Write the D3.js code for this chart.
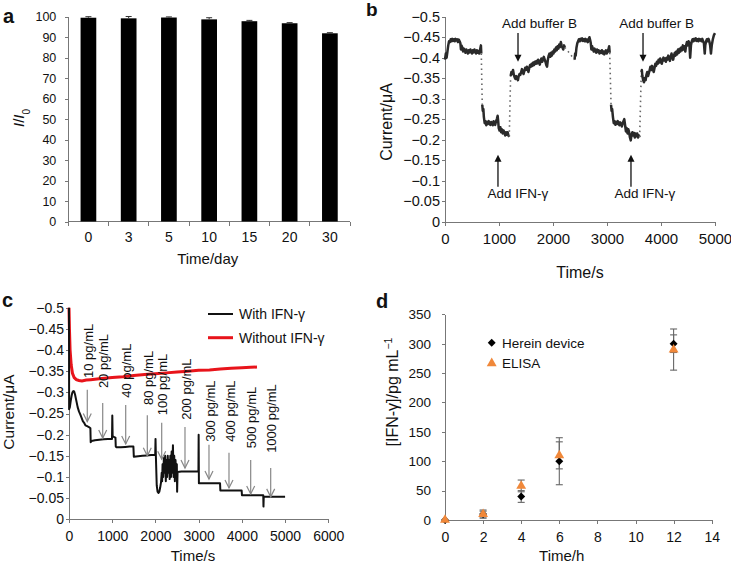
<!DOCTYPE html>
<html><head><meta charset="utf-8">
<script src="https://cdn.jsdelivr.net/npm/d3@7"></script>
<style>
body{margin:0;background:#fff}
svg{display:block;font-family:"Liberation Sans",Arial,Helvetica,sans-serif}
.axis path,.axis line{stroke:#777;stroke-width:1;shape-rendering:crispEdges}
.axis text{fill:#111;font-family:"Liberation Sans",Arial,sans-serif}
</style></head><body>
<svg id="fig" width="731" height="564"></svg>
<script>
// ---------- Panel a ----------
const aDays = ["0","3","5","10","15","20","30"];
const aValues = [99.5,99.2,99.6,98.7,97.8,96.8,91.9];
const aErrors = [0.5,0.9,0.3,0.8,0.4,0.3,0.3];
const aYTicks = [0,10,20,30,40,50,60,70,80,90,100];

// ---------- Panel b ----------
const bSeg1 = [[0,-0.395],[15,-0.41],[30,-0.40],[45,-0.415],[60,-0.43],[75,-0.44],[90,-0.438],[105,-0.445],[120,-0.44],[135,-0.446],[150,-0.441],[165,-0.445],[180,-0.44],[195,-0.446],[210,-0.442],[225,-0.445],[240,-0.438],[255,-0.444],[270,-0.44],[285,-0.435],[295,-0.42],[305,-0.43],[320,-0.425],[335,-0.415],[350,-0.422],[365,-0.418],[380,-0.412],[395,-0.42],[410,-0.416],[425,-0.41],[440,-0.418],[455,-0.413],[470,-0.42],[485,-0.415],[500,-0.41],[515,-0.418],[530,-0.413],[545,-0.42],[560,-0.415],[575,-0.41],[590,-0.418],[605,-0.412],[620,-0.416],[635,-0.41],[650,-0.42],[665,-0.43],[672,-0.41]];
const bSeg2 = [[690,-0.285],[700,-0.27],[710,-0.275],[720,-0.255],[735,-0.24],[750,-0.245],[765,-0.235],[780,-0.243],[795,-0.238],[810,-0.245],[825,-0.24],[840,-0.236],[855,-0.243],[870,-0.24],[885,-0.235],[900,-0.245],[915,-0.24],[930,-0.236],[945,-0.245],[960,-0.25],[975,-0.258],[985,-0.245],[995,-0.228],[1010,-0.222],[1025,-0.23],[1040,-0.218],[1055,-0.225],[1070,-0.215],[1085,-0.222],[1100,-0.218],[1115,-0.21],[1130,-0.218],[1145,-0.212],[1160,-0.218],[1175,-0.21],[1190,-0.207]];
const bSeg3 = [[1215,-0.355],[1230,-0.365],[1245,-0.36],[1260,-0.37],[1275,-0.358],[1290,-0.352],[1305,-0.348],[1320,-0.355],[1335,-0.35],[1350,-0.345],[1365,-0.355],[1380,-0.36],[1395,-0.358],[1410,-0.365],[1425,-0.372],[1440,-0.365],[1455,-0.36],[1470,-0.368],[1485,-0.375],[1500,-0.37],[1515,-0.378],[1530,-0.372],[1545,-0.365],[1560,-0.375],[1575,-0.382],[1590,-0.378],[1605,-0.385],[1620,-0.38],[1635,-0.388],[1650,-0.382],[1665,-0.39],[1680,-0.385],[1695,-0.392],[1710,-0.386],[1725,-0.395],[1740,-0.39],[1755,-0.383],[1770,-0.392],[1785,-0.398],[1800,-0.39],[1815,-0.395],[1830,-0.402],[1845,-0.396],[1860,-0.39],[1875,-0.382],[1890,-0.378],[1905,-0.395],[1920,-0.405],[1935,-0.41],[1950,-0.402],[1965,-0.412],[1980,-0.405],[1995,-0.415],[2010,-0.41],[2025,-0.42],[2040,-0.415],[2055,-0.425],[2070,-0.418],[2085,-0.428],[2100,-0.422],[2115,-0.432],[2130,-0.426],[2145,-0.438],[2160,-0.43],[2175,-0.425],[2190,-0.42],[2205,-0.43],[2220,-0.425]];
const bSeg4 = [[2400,-0.395],[2410,-0.41],[2420,-0.405],[2435,-0.425],[2450,-0.435],[2465,-0.44],[2480,-0.445],[2495,-0.44],[2510,-0.446],[2525,-0.442],[2540,-0.447],[2555,-0.441],[2570,-0.445],[2585,-0.44],[2600,-0.446],[2615,-0.44],[2630,-0.444],[2645,-0.438],[2660,-0.445],[2675,-0.45],[2690,-0.442],[2700,-0.435],[2710,-0.42],[2725,-0.428],[2740,-0.42],[2755,-0.415],[2770,-0.422],[2785,-0.416],[2800,-0.412],[2815,-0.42],[2830,-0.414],[2845,-0.418],[2860,-0.41],[2875,-0.416],[2890,-0.412],[2905,-0.418],[2920,-0.41],[2935,-0.415],[2950,-0.408],[2965,-0.414],[2980,-0.418],[2995,-0.41],[3010,-0.415],[3025,-0.42],[3040,-0.428],[3050,-0.412]];
const bSeg5 = [[3075,-0.285],[3085,-0.27],[3095,-0.275],[3110,-0.255],[3125,-0.24],[3140,-0.245],[3155,-0.236],[3170,-0.243],[3185,-0.238],[3200,-0.245],[3215,-0.24],[3230,-0.235],[3245,-0.242],[3260,-0.238],[3275,-0.232],[3290,-0.24],[3305,-0.245],[3320,-0.25],[3335,-0.235],[3350,-0.22],[3365,-0.228],[3380,-0.215],[3395,-0.225],[3410,-0.218],[3425,-0.205],[3440,-0.198],[3455,-0.212],[3470,-0.218],[3485,-0.21],[3500,-0.216],[3515,-0.205],[3530,-0.215],[3545,-0.208],[3560,-0.215],[3575,-0.205],[3590,-0.21],[3605,-0.206]];
const bSeg6 = [[3635,-0.365],[3645,-0.37],[3655,-0.355],[3670,-0.345],[3685,-0.34],[3700,-0.35],[3715,-0.345],[3730,-0.358],[3745,-0.365],[3760,-0.355],[3775,-0.362],[3790,-0.37],[3805,-0.378],[3820,-0.37],[3835,-0.38],[3850,-0.372],[3865,-0.365],[3880,-0.375],[3895,-0.385],[3910,-0.38],[3925,-0.39],[3940,-0.385],[3955,-0.395],[3970,-0.388],[3985,-0.398],[4000,-0.39],[4015,-0.385],[4030,-0.395],[4045,-0.4],[4060,-0.393],[4075,-0.398],[4090,-0.39],[4105,-0.4],[4120,-0.395],[4135,-0.405],[4150,-0.398],[4165,-0.392],[4180,-0.402],[4195,-0.41],[4210,-0.4],[4225,-0.395],[4240,-0.405],[4255,-0.412],[4270,-0.405],[4285,-0.415],[4300,-0.408],[4315,-0.42],[4330,-0.412],[4345,-0.422],[4360,-0.415],[4375,-0.425],[4390,-0.418],[4405,-0.43],[4420,-0.42],[4435,-0.428],[4450,-0.415],[4465,-0.43],[4480,-0.438],[4495,-0.43],[4510,-0.44],[4525,-0.435],[4540,-0.4],[4555,-0.43],[4570,-0.44],[4585,-0.445],[4600,-0.44],[4615,-0.446],[4630,-0.442],[4645,-0.447],[4660,-0.441],[4675,-0.445],[4690,-0.44],[4705,-0.446],[4720,-0.442],[4735,-0.445],[4750,-0.44],[4765,-0.446],[4780,-0.44],[4795,-0.435],[4810,-0.41],[4820,-0.43],[4835,-0.44],[4850,-0.445],[4865,-0.44],[4880,-0.446],[4895,-0.44],[4910,-0.43],[4925,-0.41],[4940,-0.43],[4960,-0.445],[4980,-0.455],[5000,-0.46]];
const bSegments = [bSeg1,bSeg2,bSeg3,bSeg4,bSeg5,bSeg6];
const bYTicks = [0,-0.05,-0.1,-0.15,-0.2,-0.25,-0.3,-0.35,-0.4,-0.45,-0.5];
const bXTicks = [0,1000,2000,3000,4000,5000];
// annotations: [label, arrow time, arrow start value, arrow tip value, text centre time, text value]
const bBufferNotes = [["Add buffer B",1352,-0.46,-0.39,1750,-0.473],["Add buffer B",3667,-0.46,-0.39,3920,-0.473]];
const bIfnNotes = [["Add IFN-γ",981,-0.085,-0.163,1350,-0.058],["Add IFN-γ",3444,-0.085,-0.163,3700,-0.058]];

// ---------- Panel c ----------
const cWith = [[0,-0.5],[3,-0.26],[20,-0.265],[40,-0.28],[60,-0.292],[80,-0.3],[100,-0.303],[120,-0.302],[140,-0.295],[160,-0.285],[180,-0.275],[200,-0.265],[230,-0.255],[260,-0.248],[290,-0.24],[320,-0.232],[350,-0.228],[380,-0.222],[420,-0.22],[460,-0.218],[495,-0.215],[502,-0.182],[520,-0.185],[600,-0.187],[700,-0.188],[800,-0.189],[900,-0.19],[995,-0.19],[1002,-0.245],[1010,-0.196],[1050,-0.194],[1075,-0.193],[1082,-0.172],[1100,-0.17],[1200,-0.17],[1300,-0.171],[1400,-0.172],[1490,-0.172],[1500,-0.148],[1600,-0.149],[1700,-0.15],[1800,-0.151],[1900,-0.152],[1995,-0.152],[2002,-0.19],[2010,-0.15],[2030,-0.08],[2050,-0.065],[2070,-0.062],[2090,-0.065],[2110,-0.075],[2130,-0.088],[2145,-0.11],[2155,-0.09],[2165,-0.13],[2180,-0.1],[2195,-0.145],[2210,-0.11],[2225,-0.15],[2240,-0.09],[2255,-0.14],[2270,-0.1],[2285,-0.15],[2300,-0.11],[2315,-0.14],[2330,-0.095],[2345,-0.15],[2360,-0.1],[2375,-0.16],[2390,-0.11],[2405,-0.175],[2420,-0.1],[2435,-0.15],[2450,-0.09],[2465,-0.14],[2480,-0.1],[2495,-0.13],[2502,-0.065],[2512,-0.112],[2600,-0.113],[2700,-0.113],[2800,-0.113],[2900,-0.113],[2995,-0.113],[3000,-0.2],[3006,-0.085],[3100,-0.085],[3200,-0.085],[3300,-0.085],[3400,-0.085],[3495,-0.085],[3502,-0.068],[3600,-0.068],[3800,-0.068],[3995,-0.068],[4002,-0.057],[4200,-0.057],[4400,-0.057],[4495,-0.057],[4500,-0.03],[4506,-0.053],[4700,-0.053],[4900,-0.053],[5000,-0.053]];
const cWithout = [[0,-0.5],[10,-0.45],[25,-0.4],[50,-0.365],[80,-0.345],[120,-0.335],[170,-0.33],[230,-0.328],[300,-0.327],[400,-0.329],[500,-0.33],[700,-0.332],[1000,-0.335],[1250,-0.337],[1500,-0.34],[1750,-0.342],[2000,-0.344],[2250,-0.346],[2500,-0.348],[2750,-0.35],[3000,-0.352],[3250,-0.353],[3500,-0.355],[3750,-0.357],[4000,-0.358],[4200,-0.359],[4350,-0.36]];
const cYTicks = [0,-0.05,-0.1,-0.15,-0.2,-0.25,-0.3,-0.35,-0.4,-0.45,-0.5];
const cXTicks = [0,1000,2000,3000,4000,5000,6000];
const cLabels = ["10 pg/mL","20 pg/mL","40 pg/mL","80 pg/mL","100 pg/mL","200 pg/mL","300 pg/mL","400 pg/mL","500 pg/mL","1000 pg/mL"];
const cArrowTime = [423,780,1312,1812,2145,2684,3239,3702,4204,4667];
const cArrowTop = [-0.306,-0.275,-0.27,-0.246,-0.228,-0.218,-0.176,-0.157,-0.14,-0.121];
const cArrowTip = [-0.231,-0.192,-0.178,-0.15,-0.142,-0.121,-0.095,-0.074,-0.06,-0.053];
const cLabelBase = [-0.334,-0.31,-0.287,-0.27,-0.246,-0.235,-0.183,-0.183,-0.168,-0.157];
const cSeries = ["With IFN-γ","Without IFN-γ"];

// ---------- Panel d ----------
const dTime = [0,2,4,6,12];
const dHerein = [0,10,40,100,300];
const dHereinErr = [0,5,10,40,15];
const dElisa = [0,10,58,110,290];
const dElisaErr = [0,7,10,23,35];
const dYTicks = [0,50,100,150,200,250,300,350];
const dXTicks = [0,2,4,6,8,10,12,14];
const dSeries = ["Herein device","ELISA"];

// =====================================================
const svg = d3.select("#fig");
const fmt = d3.format(".3~f");
const ORANGE = "#f0883a";

function label(txt,x,y,opt={}){
  const t = svg.append("text").attr("x",x).attr("y",y).text(txt)
    .attr("font-size",opt.size||14).attr("fill","#111");
  if(opt.anchor) t.attr("text-anchor",opt.anchor);
  if(opt.weight) t.attr("font-weight",opt.weight);
  return t;
}
function rotLabel(parts,cx,cy,size){
  const t = svg.append("text").attr("transform",`translate(${cx},${cy}) rotate(-90)`)
    .attr("text-anchor","middle").attr("dy","0.35em").attr("font-size",size).attr("fill","#111");
  parts.forEach(p=>{
    const s=t.append("tspan").text(p.t);
    if(p.style) s.attr("font-style",p.style);
    if(p.shift) s.attr("baseline-shift",p.shift).attr("font-size",p.fs);
  });
  return t;
}
const setFont=(sel,s)=>sel.selectAll("text").attr("font-size",s);

// ---------------- Panel a ----------------
{
  const x = d3.scaleBand().domain(aDays).range([68.3,350]).paddingInner(0.61).paddingOuter(0.305);
  const y = d3.scaleLinear().domain([0,100]).range([221.5,16.7]);
  const g = svg.append("g");
  const ya = g.append("g").attr("class","axis").attr("transform","translate(68.3,0)")
    .call(d3.axisLeft(y).tickValues(aYTicks).tickSize(3).tickSizeOuter(0).tickPadding(9));
  setFont(ya,12.5);
  const xa = g.append("g").attr("class","axis").attr("transform","translate(0,221.5)")
    .call(d3.axisBottom(x).tickSize(0).tickPadding(11));
  setFont(xa,14);
  xa.select(".domain").attr("d","M68.3,0H350");
  const bounds = aDays.map(d=>x(d)-x.step()*x.paddingInner()/2).concat([350]);
  xa.selectAll(".bt").data(bounds).join("line").attr("class","bt")
    .attr("x1",d=>d).attr("x2",d=>d).attr("y1",0).attr("y2",4);
  g.selectAll(".bar").data(aDays).join("rect")
    .attr("x",d=>x(d)).attr("width",x.bandwidth())
    .attr("y",(d,i)=>y(aValues[i])).attr("height",(d,i)=>y(0)-y(aValues[i])).attr("fill","#000");
  aDays.forEach((d,i)=>{
    const cx=x(d)+x.bandwidth()/2, hi=y(aValues[i]+aErrors[i]);
    g.append("line").attr("x1",cx).attr("x2",cx).attr("y1",hi).attr("y2",y(aValues[i])).attr("stroke","#333");
    g.append("line").attr("x1",cx-3).attr("x2",cx+3).attr("y1",hi).attr("y2",hi).attr("stroke","#333");
  });
  label("a",3,23,{size:20,weight:"bold"});
  label("Time/day",207.7,264,{anchor:"middle",size:15});
  rotLabel([{t:"I",style:"italic"},{t:"/"},{t:"I",style:"italic"},{t:"0",shift:"sub",fs:10}],19,118,15);
}

// ---------------- Panel b ----------------
{
  const x = d3.scaleLinear().domain([0,5000]).range([445,715]);
  const y = d3.scaleLinear().domain([0,-0.5]).range([221.5,16.7]);
  const g = svg.append("g");
  const ya = g.append("g").attr("class","axis").attr("transform","translate(445,0)")
    .call(d3.axisLeft(y).tickValues(bYTicks).tickFormat(fmt).tickSize(3).tickSizeOuter(0).tickPadding(2));
  setFont(ya,14.5);
  const xa = g.append("g").attr("class","axis").attr("transform","translate(0,221.5)")
    .call(d3.axisBottom(x).tickValues(bXTicks).tickFormat(d3.format("d")).tickSize(4).tickSizeOuter(0).tickPadding(8));
  setFont(xa,15);
  const line = d3.line().x(d=>x(d[0])).y(d=>y(d[1]));
  bSegments.forEach((seg,i)=>{
    g.append("path").attr("d",line(seg)).attr("fill","none").attr("stroke","#2a2a2a")
      .attr("stroke-width",2.5).attr("stroke-linejoin","round");
    if(i<bSegments.length-1){
      const a=seg[seg.length-1], b=bSegments[i+1][0];
      g.append("path").attr("d",line([a,b])).attr("fill","none").attr("stroke","#666")
        .attr("stroke-width",1.6).attr("stroke-dasharray","1.5,3.5");
    }
  });
  const arrow = (t,v0,v1,dir)=>{
    const px=x(t), y0=y(v0), y1=y(v1);
    g.append("line").attr("x1",px).attr("x2",px).attr("y1",y0).attr("y2",y1-6*dir).attr("stroke","#111").attr("stroke-width",1.3);
    g.append("path").attr("d",`M${px-3.5},${y1-7*dir}L${px+3.5},${y1-7*dir}L${px},${y1}Z`).attr("fill","#111");
  };
  bBufferNotes.forEach(n=>{ arrow(n[1],n[2],n[3],1); label(n[0],x(n[4]),y(n[5]),{anchor:"middle",size:13.5}); });
  bIfnNotes.forEach(n=>{ arrow(n[1],n[2],n[3],-1); label(n[0],x(n[4]),y(n[5]),{anchor:"middle",size:13.5}); });
  label("b",366,16,{size:19,weight:"bold"});
  label("Time/s",580,278,{anchor:"middle",size:16});
  rotLabel([{t:"Current/μA"}],386,122,16);
}

// ---------------- Panel c ----------------
{
  const x = d3.scaleLinear().domain([0,6000]).range([69,328.3]);
  const y = d3.scaleLinear().domain([0,-0.5]).range([519.3,307.7]);
  const g = svg.append("g");
  const ya = g.append("g").attr("class","axis").attr("transform","translate(69,0)")
    .call(d3.axisLeft(y).tickValues(cYTicks).tickFormat(fmt).tickSize(3).tickSizeOuter(0).tickPadding(2));
  setFont(ya,14);
  const xa = g.append("g").attr("class","axis").attr("transform","translate(0,519.3)")
    .call(d3.axisBottom(x).tickValues(cXTicks).tickFormat(d3.format("d")).tickSize(4).tickSizeOuter(0).tickPadding(8));
  setFont(xa,14);
  const line = d3.line().x(d=>x(d[0])).y(d=>y(d[1]));
  g.append("path").attr("d",line(cWithout)).attr("fill","none").attr("stroke","#e8141b").attr("stroke-width",3);
  g.append("path").attr("d",line(cWith)).attr("fill","none").attr("stroke","#111").attr("stroke-width",2).attr("stroke-linejoin","round");
  cLabels.forEach((lab,i)=>{
    const px=x(cArrowTime[i]), y0=y(cArrowTop[i]), y1=y(cArrowTip[i]);
    g.append("line").attr("x1",px).attr("x2",px).attr("y1",y0).attr("y2",y1).attr("stroke","#888").attr("stroke-width",1.2);
    g.append("path").attr("d",`M${px-4},${y1-8}L${px},${y1}L${px+4},${y1-8}`).attr("fill","none").attr("stroke","#888").attr("stroke-width",1.2);
    g.append("text").attr("transform",`translate(${px+1},${y(cLabelBase[i])}) rotate(-90)`)
      .attr("dy","0.35em").attr("font-size",13).attr("fill","#111").text(lab);
  });
  const legY=[314,337.7], legC=["#111","#e8141b"], legW=[2,3];
  cSeries.forEach((s,i)=>{
    g.append("line").attr("x1",208).attr("x2",233).attr("y1",legY[i]).attr("y2",legY[i]).attr("stroke",legC[i]).attr("stroke-width",legW[i]);
    label(s,239,legY[i]+5,{size:14});
  });
  label("c",2,307,{size:20,weight:"bold"});
  label("Time/s",193,561,{anchor:"middle",size:15});
  rotLabel([{t:"Current/μA"}],9,412,15.5);
}

// ---------------- Panel d ----------------
{
  const x = d3.scaleLinear().domain([0,14]).range([445,711.7]);
  const y = d3.scaleLinear().domain([0,350]).range([520,314.3]);
  const g = svg.append("g");
  const ya = g.append("g").attr("class","axis").attr("transform","translate(445,0)")
    .call(d3.axisLeft(y).tickValues(dYTicks).tickSize(3).tickSizeOuter(0).tickPadding(11));
  setFont(ya,13.5);
  const xa = g.append("g").attr("class","axis").attr("transform","translate(0,520)")
    .call(d3.axisBottom(x).tickValues(dXTicks).tickSize(4).tickSizeOuter(0).tickPadding(8));
  setFont(xa,14);
  const errBar=(t,v,e)=>{
    if(!e) return;
    const px=x(t), a=y(v-e), b=y(v+e);
    g.append("line").attr("x1",px).attr("x2",px).attr("y1",a).attr("y2",b).attr("stroke","#666").attr("stroke-width",1.1);
    [a,b].forEach(yy=>g.append("line").attr("x1",px-3.5).attr("x2",px+3.5).attr("y1",yy).attr("y2",yy).attr("stroke","#666").attr("stroke-width",1.1));
  };
  dTime.forEach((t,i)=>{ errBar(t,dHerein[i],dHereinErr[i]); errBar(t,dElisa[i],dElisaErr[i]); });
  const diamond = d3.symbol().type(d3.symbolDiamond2).size(40);
  const tri = d3.symbol().type(d3.symbolTriangle).size(42);
  dTime.forEach((t,i)=>{
    g.append("path").attr("d",diamond()).attr("transform",`translate(${x(t)},${y(dHerein[i])})`).attr("fill","#000");
    g.append("path").attr("d",tri()).attr("transform",`translate(${x(t)},${y(dElisa[i])})`).attr("fill",ORANGE);
  });
  g.append("path").attr("d",diamond()).attr("transform","translate(491.7,342.7)").attr("fill","#000");
  g.append("path").attr("d",tri()).attr("transform","translate(491.7,363.3)").attr("fill",ORANGE);
  label(dSeries[0],502,347.5,{size:13.5});
  label(dSeries[1],502,368,{size:13.5});
  label("d",376,308,{size:20,weight:"bold"});
  label("Time/h",561.7,561,{anchor:"middle",size:15});
  rotLabel([{t:"[IFN-γ]/pg mL"},{t:"−1",shift:"super",fs:10.5}],392,392,16);
}
</script></body></html>
